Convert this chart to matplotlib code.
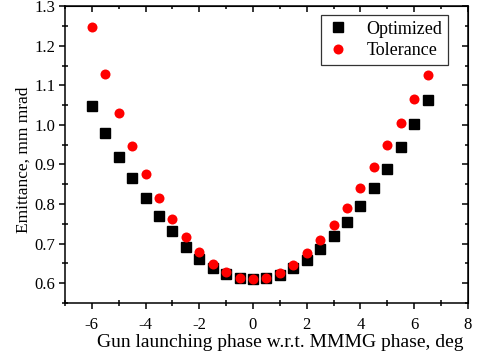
import numpy as np
import matplotlib
matplotlib.use("Agg")
import matplotlib.pyplot as plt
from matplotlib.ticker import MultipleLocator

plt.rcParams["font.family"] = ["Liberation Serif", "DejaVu Serif"]
plt.rcParams["axes.unicode_minus"] = False

# Emittance vs gun launching phase
phase = [-6.0, -5.5, -5.0, -4.5, -4.0, -3.5, -3.0, -2.5, -2.0, -1.5, -1.0, -0.5, 0.0,
         0.5, 1.0, 1.5, 2.0, 2.5, 3.0, 3.5, 4.0, 4.5, 5.0, 5.5, 6.0, 6.5]
optimized = [1.048, 0.979, 0.918, 0.865, 0.816, 0.770, 0.732, 0.692, 0.662, 0.639, 0.622,
             0.613, 0.609, 0.612, 0.621, 0.639, 0.659, 0.686, 0.718, 0.754, 0.795, 0.840,
             0.889, 0.944, 1.002, 1.063]
tolerance = [1.247, 1.130, 1.031, 0.948, 0.876, 0.814, 0.762, 0.716, 0.679, 0.649, 0.627,
             0.613, 0.609, 0.613, 0.625, 0.645, 0.675, 0.708, 0.747, 0.791, 0.840, 0.893,
             0.949, 1.005, 1.065, 1.126]

fig = plt.figure(figsize=(4.79, 3.6), dpi=100)
ax = fig.add_axes([0.1357, 0.159, 0.841, 0.823])

ax.plot(phase, optimized, "s", color="black", markersize=6.5, label="Optimized", zorder=2)
ax.plot(phase, tolerance, "o", color="red", markersize=7.2, markeredgewidth=0,
        label="Tolerance", zorder=3)

ax.set_xlim(-7, 8)
ax.set_ylim(0.55, 1.3)
ax.xaxis.set_major_locator(MultipleLocator(2))
ax.xaxis.set_minor_locator(MultipleLocator(1))
ax.yaxis.set_major_locator(MultipleLocator(0.1))
ax.yaxis.set_minor_locator(MultipleLocator(0.05))
ax.yaxis.set_major_formatter(plt.FormatStrFormatter("%.1f"))

for s in ax.spines.values():
    s.set_linewidth(1.1)
ax.tick_params(which="major", direction="out", length=4, width=1.1, labelsize=12)
ax.tick_params(axis="x", which="major", pad=6)
ax.tick_params(axis="y", which="major", pad=3)
ax.tick_params(which="minor", direction="inout", length=4, width=1.1)

# mirrored axes with inward ticks
top = ax.secondary_xaxis("top")
top.xaxis.set_major_locator(MultipleLocator(2))
top.xaxis.set_minor_locator(MultipleLocator(1))
top.tick_params(which="both", direction="in", labeltop=False, width=1.1)
top.tick_params(which="major", length=4)
top.tick_params(which="minor", length=2.5)
right = ax.secondary_yaxis("right")
right.yaxis.set_major_locator(MultipleLocator(0.1))
right.yaxis.set_minor_locator(MultipleLocator(0.05))
right.tick_params(which="both", direction="in", labelright=False, width=1.1)
right.tick_params(which="major", length=4)
right.tick_params(which="minor", length=2.5)

ax.set_xlabel("Gun launching phase w.r.t. MMMG phase, deg", fontsize=14)
ax.xaxis.set_label_coords(0.535, -0.105)
ax.set_ylabel("Emittance, mm mrad", fontsize=12.5)
ax.yaxis.set_label_coords(-0.082, 0.481)

leg = ax.legend(loc="upper right", bbox_to_anchor=(0.95, 0.97), fontsize=13,
                frameon=True, fancybox=False, edgecolor="black", handletextpad=0.9,
                borderpad=0.3, handlelength=1.3, labelspacing=0.25, borderaxespad=0)
leg.get_frame().set_linewidth(0.9)

fig.savefig("out.png", dpi=100)
